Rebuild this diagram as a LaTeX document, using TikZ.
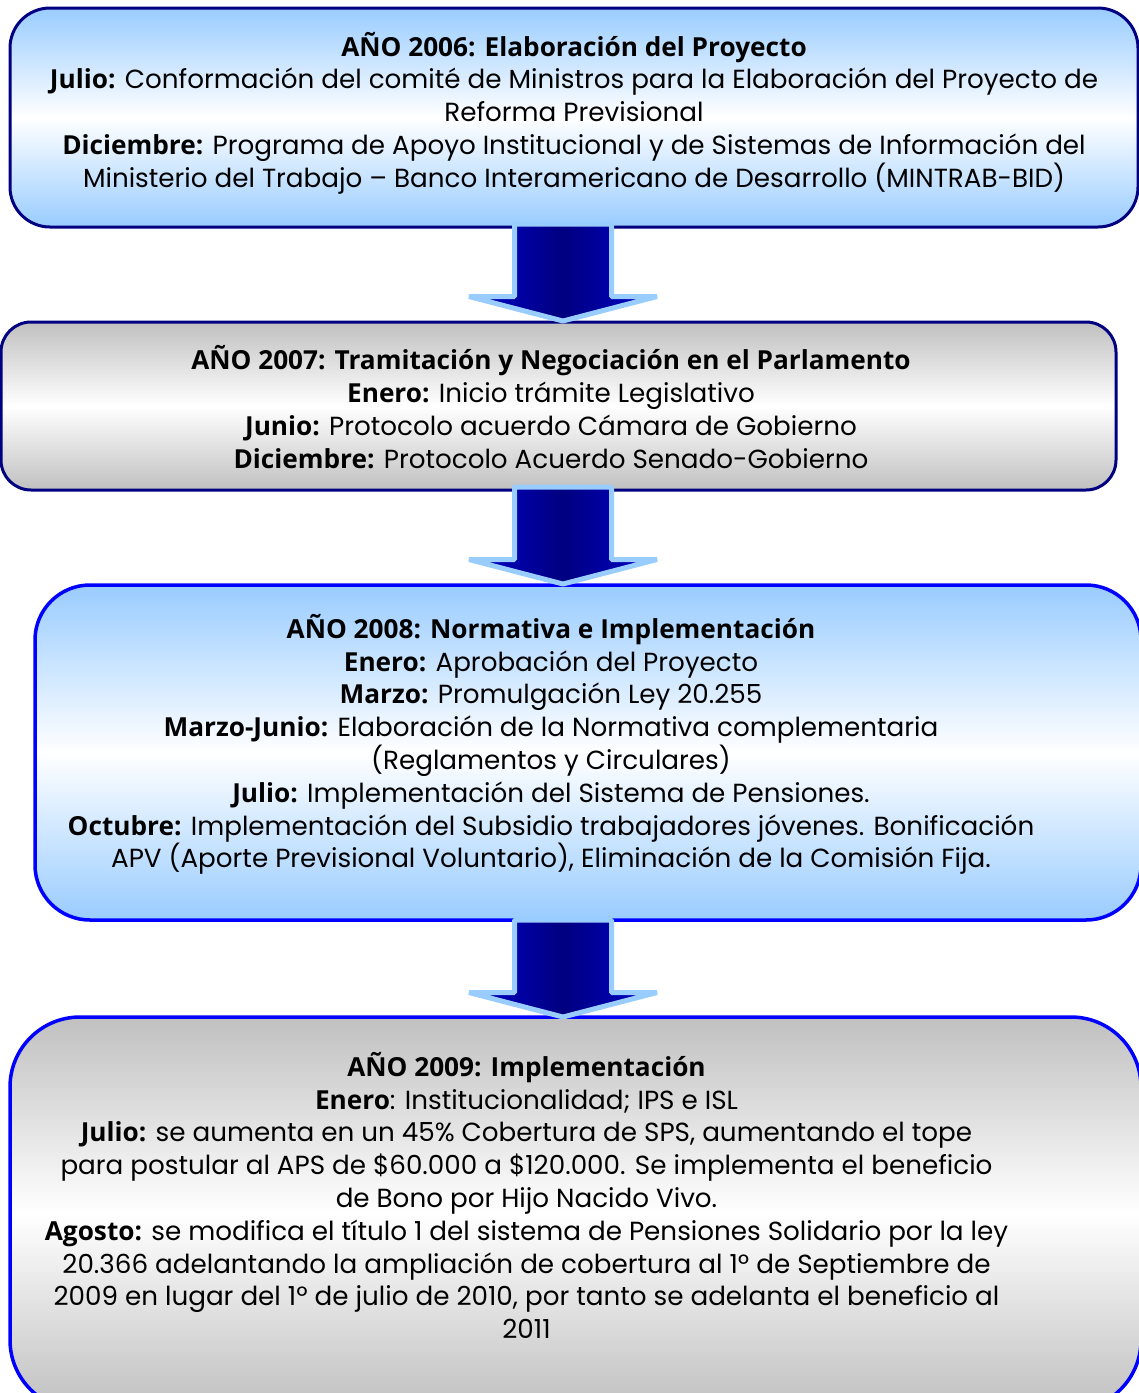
\documentclass[tikz,border=0pt]{standalone}
\usepackage{fontspec}
\setmainfont{Poppins}
\newfontfamily\labfont{Open Sans}
\usetikzlibrary{calc}

\definecolor{navyline}{HTML}{000080}
\definecolor{blueline}{HTML}{0000FF}
\definecolor{skyfill}{HTML}{99CCFF}
\definecolor{greyfill}{HTML}{C0C0C0}
\definecolor{arrowside}{HTML}{0000CC}

\newcommand{\lab}[1]{{\labfont\bfseries #1}}

\tikzset{
  bluestage/.style={rectangle, draw, line width=3pt, inner sep=0pt, outer sep=0pt,
    top color=skyfill, bottom color=skyfill, middle color=white},
  greystage/.style={rectangle, draw, line width=3pt, inner sep=0pt, outer sep=0pt,
    top color=greyfill, bottom color=greyfill, middle color=white},
  stagetext/.style={align=center, inner sep=0pt, font=\fontsize{26.2}{32.8}\selectfont},
  flowarrow/.style={draw=skyfill, line width=5pt, line join=bevel,
    left color=arrowside, right color=arrowside, middle color=navyline}
}

% downward block arrow hanging from a given top-centre point
\newcommand{\downarrowshape}[1]{%
  \draw[flowarrow] (#1) +(-48.5,0) -- +(-48.5,72.5) -- +(-94,72.5) -- +(0,97)
    -- +(94,72.5) -- +(48.5,72.5) -- +(48.5,0) -- cycle;}

\begin{document}
\begin{tikzpicture}[x=1pt,y=-1pt]
\useasboundingbox (0,0) rectangle (1139,1393);

% stage boxes
\node[bluestage, draw=navyline, rounded corners=40pt,
      minimum width=1128pt, minimum height=219pt] (box1) at (574,117.5) {};
\node[greystage, draw=navyline, rounded corners=30pt,
      minimum width=1115pt, minimum height=168pt] (box2) at (558.5,406) {};
\node[bluestage, draw=blueline, line width=3.5pt, rounded corners=55pt,
      minimum width=1106pt, minimum height=335pt] (box3) at (588,752.5) {};
\node[greystage, draw=blueline, line width=3.5pt, rounded corners=70pt,
      minimum width=1131pt, minimum height=393pt] (box4) at (575.5,1213.5) {};

% connectors between the stages
\coordinate (a1) at ($(box1.south)+(-11,-3)$);
\coordinate (a2) at ($(box2.south)+(4.5,-3)$);
\coordinate (a3) at ($(box3.south)+(-25,0)$);
\downarrowshape{a1}
\downarrowshape{a2}
\downarrowshape{a3}

% texts
\node[stagetext] (t1) at (574,113) {%
  \lab{AÑO 2006: Elaboración del Proyecto}\\
  \lab{Julio:} Conformación del comité de Ministros para la Elaboración del Proyecto de\\
  Reforma Previsional\\
  \lab{Diciembre:} Programa de Apoyo Institucional y de Sistemas de Información del\\
  Ministerio del Trabajo – Banco Interamericano de Desarrollo (MINTRAB-BID)};

\node[stagetext] (t2) at (551,407) {%
  \lab{AÑO 2007: Tramitación y Negociación en el Parlamento}\\
  \lab{Enero:} Inicio trámite Legislativo\\
  \lab{Junio:} Protocolo acuerdo Cámara de Gobierno\\
  \lab{Diciembre:} Protocolo Acuerdo Senado-Gobierno};

\node[stagetext] (t3) at (551,744.5) {%
  \lab{AÑO 2008: Normativa e Implementación}\\
  \lab{Enero:} Aprobación del Proyecto\\
  \lab{Marzo:} Promulgación Ley 20.255\\
  \lab{Marzo-Junio:} Elaboración de la Normativa complementaria\\
  (Reglamentos y Circulares)\\
  \lab{Julio:} Implementación del Sistema de Pensiones.\\
  \lab{Octubre:} Implementación del Subsidio trabajadores jóvenes. Bonificación\\
  APV (Aporte Previsional Voluntario), Eliminación de la Comisión Fija.};

\node[stagetext] (t4) at (526.5,1195.5) {%
  \lab{AÑO 2009: Implementación}\\
  \lab{Enero}: Institucionalidad; IPS e ISL\\
  \lab{Julio:} se aumenta en un 45\% Cobertura de SPS, aumentando el tope\\
  para postular al APS de \$60.000 a \$120.000. Se implementa el beneficio\\
  de Bono por Hijo Nacido Vivo.\\
  \lab{Agosto:} se modifica el título 1 del sistema de Pensiones Solidario por la ley\\
  20.366 adelantando la ampliación de cobertura al 1º de Septiembre de\\
  2009 en lugar del 1º de julio de 2010, por tanto se adelanta el beneficio al\\
  2011};
\end{tikzpicture}
\end{document}
